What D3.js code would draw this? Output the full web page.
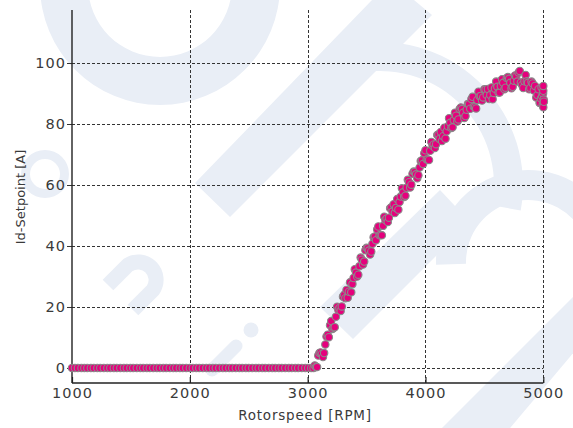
<!DOCTYPE html>
<html>
<head>
<meta charset="utf-8">
<script src="https://cdn.jsdelivr.net/npm/d3@7"></script>
<style>
  html, body { margin: 0; padding: 0; background: #fff; }
  svg { display: block; }
  text { font-family: "DejaVu Sans", sans-serif; fill: #3a3a3a; }
</style>
</head>
<body>
<svg id="chart" width="573" height="428"></svg>
<script>
// ---------------- data ----------------
const xTicks = [1000, 2000, 3000, 4000, 5000];
const yTicks = [0, 20, 40, 60, 80, 100];
const xLabel = "Rotorspeed [RPM]";
const yLabel = "Id-Setpoint [A]";

// flat part: Id-Setpoint = 0
const flatRpm = [1000, 1025, 1050, 1080, 1105, 1130, 1160, 1185, 1215, 1240, 1270, 1300, 1325, 1355, 1380,
  1410, 1440, 1465, 1495, 1520, 1550, 1580, 1605, 1635, 1660, 1690, 1720, 1745, 1775, 1800, 1830, 1860,
  1885, 1915, 1940, 1970, 2000, 2025, 2055, 2080, 2110, 2140, 2165, 2195, 2220, 2250, 2280, 2305, 2335,
  2360, 2390, 2420, 2445, 2475, 2500, 2530, 2560, 2585, 2615, 2640, 2670, 2700, 2725, 2755, 2780, 2810,
  2840, 2865, 2895, 2920, 2950, 2980, 3005, 3030, 3050];
const flatId = flatRpm.map(() => 0);

// rising part (first sweep)
const rampRpm = [3060, 3080, 3100, 3120, 3140, 3160, 3180, 3200, 3220, 3240, 3260, 3280, 3300, 3320, 3340,
  3360, 3380, 3400, 3420, 3440, 3460, 3480, 3500, 3520, 3540, 3560, 3580, 3600, 3620, 3640, 3660, 3680,
  3700, 3720, 3740, 3760, 3780, 3800, 3820, 3840, 3860, 3880, 3900, 3920, 3940, 3960, 3980, 4000, 4020,
  4040, 4060, 4080, 4100, 4120, 4140, 4160, 4180, 4200, 4220, 4240, 4260, 4280, 4300, 4320, 4340, 4360,
  4380, 4400, 4420, 4440, 4460, 4480, 4500, 4520, 4540, 4560, 4580, 4600, 4620, 4640, 4660, 4680, 4700,
  4720, 4740, 4760, 4780, 4800, 4820, 4840, 4860, 4880, 4900, 4920, 4940, 4960, 4980, 5000];
const rampId = [0.8, 0.3, 4.9, 4.6, 4.9, 10.3, 10.1, 15.4, 13.2, 16.8, 19.1, 18.7, 23.4, 22.9, 23.0,
  28.1, 27.5, 32.4, 30.0, 33.4, 35.5, 34.9, 39.4, 38.5, 38.2, 42.9, 41.9, 46.4, 43.6, 46.6, 48.5, 47.9,
  52.4, 51.3, 50.8, 55.4, 54.4, 58.9, 56.1, 59.1, 60.9, 60.1, 64.4, 63.5, 63.2, 67.9, 66.9, 71.4, 68.4,
  71.2, 72.9, 72.1, 76.4, 75.1, 74.4, 78.8, 77.6, 81.9, 78.7, 81.3, 82.7, 81.5, 85.4, 83.7, 82.6, 86.6,
  85.0, 88.9, 85.5, 87.9, 89.1, 87.7, 91.4, 89.5, 88.2, 92.0, 90.2, 93.9, 90.3, 92.5, 93.5, 91.9, 95.4,
  93.5, 92.2, 95.9, 93.9, 97.4, 92.8, 94.0, 94.0, 91.4, 93.9, 91.0, 88.7, 91.4, 88.4, 90.9];

// rising part (second sweep)
const ramp2Rpm = [3070, 3110, 3150, 3190, 3230, 3270, 3310, 3350, 3390, 3430, 3470, 3510, 3550, 3590, 3630,
  3670, 3710, 3750, 3790, 3830, 3870, 3910, 3950, 3990, 4030, 4070, 4110, 4150, 4190, 4230, 4270, 4310,
  4350, 4390, 4430, 4470, 4510, 4550, 4590, 4630, 4670, 4710, 4750, 4790, 4830, 4870, 4910, 4950, 4990];
const ramp2Id = [0.3, 5.1, 7.7, 14.0, 13.4, 19.7, 24.0, 25.0, 29.5, 30.6, 33.9, 39.3, 40.7, 45.4, 43.5,
  49.0, 52.7, 52.5, 56.2, 56.5, 59.2, 64.3, 65.7, 70.4, 68.2, 73.3, 76.6, 76.0, 79.3, 78.9, 80.8, 84.9,
  84.7, 88.2, 85.1, 89.2, 91.3, 89.5, 91.6, 90.3, 91.4, 94.8, 94.2, 96.9, 91.8, 93.5, 93.3, 89.5, 89.2];

// rising part (third sweep)
const ramp3Rpm = [3090, 3130, 3170, 3210, 3250, 3290, 3330, 3370, 3410, 3450, 3490, 3530, 3570, 3610, 3650,
  3690, 3730, 3770, 3810, 3850, 3890, 3930, 3970, 4010, 4050, 4090, 4130, 4170, 4210, 4250, 4290, 4330,
  4370, 4410, 4450, 4490, 4530, 4570, 4610, 4650, 4690, 4730, 4770, 4810, 4850, 4890, 4930, 4970];
const ramp3Id = [4.1, 3.6, 10.9, 12.8, 20.1, 20.2, 25.6, 24.8, 31.3, 36.2, 38.6, 37.2, 43.1, 43.5, 49.6,
  49.3, 53.7, 51.9, 57.6, 61.7, 63.7, 62.2, 68.1, 68.4, 74.1, 73.4, 77.4, 75.2, 80.4, 83.7, 84.9, 82.0,
  86.5, 85.7, 90.6, 88.7, 91.5, 88.1, 92.2, 94.7, 95.1, 91.7, 95.6, 93.6, 96.1, 91.8, 92.5, 86.9];

// cluster at the end of the sweep
const endRpm = [4970, 4985, 4995, 5000, 5005, 4998, 5003, 5000];
const endId = [87.0, 92.0, 86.2, 85.5, 87.3, 90.0, 88.0, 92.5];

// ---------------- chart ----------------
const svg = d3.select("#chart");
const plot = { left: 72, right: 543.3, top: 10, bottom: 383 };

const x = d3.scaleLinear().domain([1000, 5000]).range([plot.left, plot.right]);
const y = d3.scaleLinear().domain([-4.92, 117.38]).range([plot.bottom, plot.top]);

// --- faint background watermark ---
const wmColor = "#e9eef6";
const wm = svg.append("g").attr("fill", wmColor).attr("stroke", "none");
const arc = d3.arc();
// large ring at the top
wm.append("path").attr("transform", "translate(160,-15)")
  .attr("d", arc({ innerRadius: 72, outerRadius: 120, startAngle: 0, endAngle: 2 * Math.PI }));
// diagonal band from the ring down to the left
wm.append("path").attr("d", "M195,183 L230,217 L432,15 L414,0 L372,0 Z");
// right ring (arc)
wm.append("path").attr("transform", "translate(380,185)")
  .attr("d", arc({ innerRadius: 114, outerRadius: 143, startAngle: -0.15, endAngle: 1.75 }));
// lower-right ring
wm.append("path").attr("transform", "translate(528,262)")
  .attr("d", arc({ innerRadius: 62, outerRadius: 92, startAngle: -1.6, endAngle: 1.2 }));
// middle band
wm.append("path").attr("d", "M320,307 L353,339 L470,222 L440,190 Z");
// bottom-right band
wm.append("path").attr("d", "M430,440 L500,440 L580,345 L580,290 Z");
// small ring at left
wm.append("path").attr("transform", "translate(45,174)")
  .attr("d", arc({ innerRadius: 15, outerRadius: 24, startAngle: 0, endAngle: 2 * Math.PI }));
// "n" arch
wm.append("path").attr("fill", "none").attr("stroke", wmColor).attr("stroke-width", 15)
  .attr("d", "M108,285 L128,265 A18,18 0 0 1 153,290 L133,310");
// "i" stroke and dot
wm.append("path").attr("fill", "none").attr("stroke", wmColor).attr("stroke-width", 13)
  .attr("stroke-linecap", "round").attr("d", "M212,370 L236,346");
wm.append("circle").attr("cx", 251).attr("cy", 330).attr("r", 7.5);

// --- gridlines ---
const grid = svg.append("g").attr("stroke", "#333").attr("stroke-width", 1).attr("stroke-dasharray", "3,2");
grid.selectAll("line.h").data(yTicks).join("line")
  .attr("x1", plot.left).attr("x2", plot.right)
  .attr("y1", d => Math.round(y(d)) + 0.5).attr("y2", d => Math.round(y(d)) + 0.5);
grid.selectAll("line.v").data(xTicks.filter(d => d !== 1000)).join("line")
  .attr("y1", plot.top).attr("y2", plot.bottom)
  .attr("x1", d => Math.round(x(d)) + 0.5).attr("x2", d => Math.round(x(d)) + 0.5);

// --- axes ---
const fmt = d3.format("d");
const yAxis = svg.append("g").attr("transform", `translate(${plot.left},0)`)
  .call(d3.axisLeft(y).tickValues(yTicks).tickFormat(fmt).tickSize(5).tickSizeOuter(0).tickPadding(1));
yAxis.select(".domain").remove();
yAxis.selectAll(".tick line").attr("stroke", "#333");
yAxis.selectAll(".tick text").style("font-size", "14.5px").style("letter-spacing", "1px")
  .attr("fill", "#3a3a3a");

const xAxis = svg.append("g").attr("transform", `translate(0,${plot.bottom})`)
  .call(d3.axisBottom(x).tickValues(xTicks).tickFormat(fmt).tickSize(-6).tickSizeOuter(0).tickPadding(5));
xAxis.select(".domain").remove();
xAxis.selectAll(".tick line").attr("stroke", "#222").attr("stroke-width", 1.2);
xAxis.selectAll(".tick text").style("font-size", "14.5px").style("letter-spacing", "1px")
  .attr("fill", "#3a3a3a");

// axis lines
svg.append("line").attr("x1", plot.left).attr("x2", plot.left).attr("y1", plot.top).attr("y2", plot.bottom)
  .attr("stroke", "#222").attr("stroke-width", 1.4);
svg.append("line").attr("x1", plot.left).attr("x2", plot.right).attr("y1", plot.bottom).attr("y2", plot.bottom)
  .attr("stroke", "#222").attr("stroke-width", 1.4);

// axis titles
svg.append("text").attr("x", 305).attr("y", 420).attr("text-anchor", "middle")
  .style("font-size", "13.5px").style("letter-spacing", "0.8px").text(xLabel);
svg.append("text").attr("transform", "translate(25,197) rotate(-90)").attr("text-anchor", "middle")
  .style("font-size", "13px").text(yLabel);

// --- scatter points ---
const pts = [];
flatRpm.forEach((r, i) => pts.push({ rpm: r, id: flatId[i] }));
rampRpm.forEach((r, i) => pts.push({ rpm: r, id: rampId[i] }));
ramp2Rpm.forEach((r, i) => pts.push({ rpm: r, id: ramp2Id[i] }));
ramp3Rpm.forEach((r, i) => pts.push({ rpm: r, id: ramp3Id[i] }));
endRpm.forEach((r, i) => pts.push({ rpm: r, id: endId[i] }));
pts.sort((a, b) => a.rpm - b.rpm);

svg.append("g").selectAll("circle").data(pts).join("circle")
  .attr("cx", d => x(d.rpm)).attr("cy", d => y(d.id)).attr("r", 3.7)
  .attr("fill", "#e5007d").attr("stroke", "#8a8a8a").attr("stroke-width", 1.1);
</script>
</body>
</html>
